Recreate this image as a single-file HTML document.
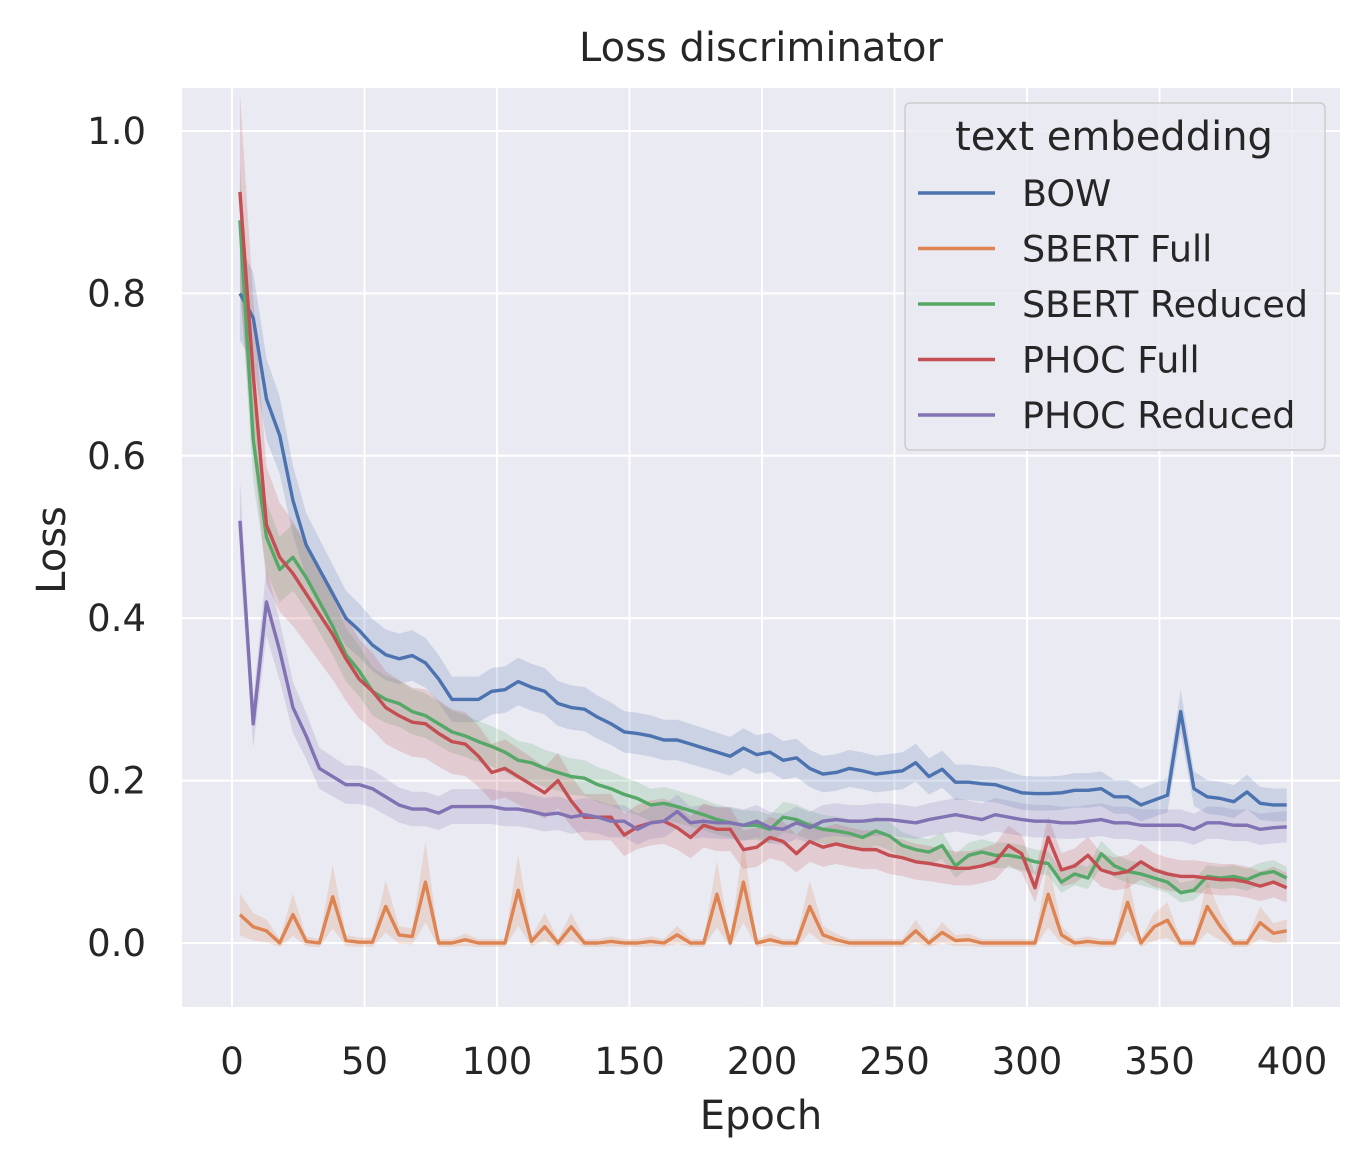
<!DOCTYPE html>
<html><head><meta charset="utf-8"><style>
body{margin:0;background:#fff;}
svg{display:block;font-family:"DejaVu Sans","Liberation Sans",sans-serif;}
</style></head><body>
<svg id="chart" width="1372" height="1168" xmlns="http://www.w3.org/2000/svg">
<rect x="182" y="88" width="1158" height="919" fill="#eaeaf2"/>
<g id="grid"></g>
<g id="bands"></g>
<g id="lines"></g>
<g id="ticks" font-size="37" fill="#262626"></g>
<text x="761" y="61" font-size="40" text-anchor="middle" fill="#262626">Loss discriminator</text>
<text x="761" y="1129" font-size="40" text-anchor="middle" fill="#262626">Epoch</text>
<text transform="translate(65,550) rotate(-90)" font-size="40" text-anchor="middle" fill="#262626">Loss</text>
<g id="legend">
<rect x="905" y="103" width="420" height="347" rx="5" fill="#eaeaf2" stroke="#ccc" stroke-width="1.5" fill-opacity="0.8"/>
<text x="1114" y="150" font-size="40" text-anchor="middle" fill="#262626">text embedding</text>
</g>
</svg>
<script>
const epochs=[];for(let e=3;e<=398;e+=5)epochs.push(e);
const bow=[.80,.77,.67,.625,.545,.49,.46,.43,.40,.385,.367,.355,.35,.354,.345,.325,.30,.30,.30,.31,.312,.322,.315,.31,.295,.29,.288,.278,.27,.26,.258,.255,.25,.25,.245,.24,.235,.23,.24,.232,.235,.225,.228,.215,.208,.21,.215,.212,.208,.21,.212,.222,.205,.214,.198,.198,.196,.195,.19,.185,.184,.184,.185,.188,.188,.19,.18,.18,.17,.176,.182,.285,.19,.18,.178,.174,.186,.172,.17,.17];
const sbertFull=[.035,.02,.015,0,.035,.002,0,.057,.003,.001,.001,.045,.01,.008,.075,0,0,.004,0,0,0,.065,.002,.02,0,.02,0,0,.002,0,0,.002,0,.01,0,0,.06,0,.075,0,.004,0,0,.045,.01,.004,0,0,0,0,0,.015,0,.013,.003,.004,0,0,0,0,0,.06,.01,0,.002,0,0,.05,0,.02,.028,0,0,.045,.02,0,0,.025,.012,.015];
const sbertReduced=[.89,.62,.50,.46,.475,.45,.42,.39,.355,.335,.31,.30,.295,.285,.28,.27,.26,.255,.248,.242,.235,.225,.222,.215,.21,.205,.203,.195,.19,.183,.178,.17,.172,.168,.163,.158,.152,.148,.145,.145,.14,.155,.152,.145,.14,.138,.135,.13,.138,.132,.12,.115,.112,.12,.095,.108,.112,.108,.108,.105,.10,.098,.075,.085,.08,.11,.095,.088,.085,.08,.075,.062,.065,.082,.08,.082,.078,.085,.088,.08];
const phocFull=[.925,.70,.515,.475,.455,.43,.405,.38,.35,.325,.31,.29,.28,.272,.27,.258,.248,.245,.23,.21,.215,.205,.195,.185,.2,.175,.155,.155,.155,.133,.143,.148,.15,.142,.13,.145,.14,.14,.115,.118,.13,.125,.11,.125,.118,.122,.118,.115,.115,.108,.105,.1,.098,.095,.092,.092,.095,.1,.12,.11,.068,.13,.09,.095,.108,.09,.085,.088,.1,.09,.085,.082,.082,.08,.078,.078,.075,.07,.075,.068];
const phocReduced=[.52,.27,.42,.36,.29,.255,.215,.205,.195,.195,.19,.18,.17,.165,.165,.16,.168,.168,.168,.168,.165,.165,.162,.158,.16,.155,.158,.155,.15,.15,.14,.148,.15,.162,.148,.15,.148,.148,.145,.15,.142,.14,.148,.142,.15,.152,.15,.15,.152,.152,.15,.148,.152,.155,.158,.155,.152,.158,.155,.152,.15,.15,.148,.148,.15,.152,.148,.148,.145,.145,.145,.145,.14,.148,.148,.145,.145,.14,.142,.143];
const seriesNames=["BOW","SBERT Full","SBERT Reduced","PHOC Full","PHOC Reduced"];
const xTicks=[0,50,100,150,200,250,300,350,400];
const yTicks=[0,0.2,0.4,0.6,0.8,1.0];
const colors=["#4c72b0","#dd8452","#55a868","#c44e52","#8172b3"];
const allData=[bow,sbertFull,sbertReduced,phocFull,phocReduced];
const errScale=[[.06,.01],[.6,.005],[.07,.008],[.12,.01],[.08,.008]];
const X=e=>232+e*(1292-232)/400, Y=v=>943-v*812;
const NS="http://www.w3.org/2000/svg";
function mk(t,a,p){const el=document.createElementNS(NS,t);for(const k in a)el.setAttribute(k,a[k]);p.appendChild(el);return el;}
const grid=document.getElementById('grid'),ticks=document.getElementById('ticks');
xTicks.forEach(t=>{const l=mk('line',{x1:X(t),x2:X(t),y1:88,y2:1007,stroke:'#fff','stroke-width':2},grid);

const tx=mk('text',{x:X(t),y:1074,'text-anchor':'middle'},ticks);tx.textContent=t;
});
yTicks.forEach(t=>{const l=mk('line',{x1:182,x2:1340,y1:Y(t),y2:Y(t),stroke:'#fff','stroke-width':2},grid);

const tx=mk('text',{x:146,y:Y(t)+13,'text-anchor':'end'},ticks);tx.textContent=t.toFixed(1);
});
const bands=document.getElementById('bands'),lines=document.getElementById('lines'),legend=document.getElementById('legend');
allData.forEach((d,s)=>{const [f,b]=errScale[s];
let up=d.map((v,i)=>X(epochs[i])+','+Y(v+v*f+b)),lo=d.map((v,i)=>X(epochs[i])+','+Y(v-v*f-b)).reverse();
const p=mk('polygon',{points:up.concat(lo).join(' '),fill:colors[s],'fill-opacity':0.2,stroke:'none'},bands);

const pl=mk('polyline',{points:d.map((v,i)=>X(epochs[i])+','+Y(v)).join(' '),fill:'none',stroke:colors[s],'stroke-width':3.4,'stroke-linejoin':'round'},lines);

const ly=193+s*55.5;
const ll=mk('line',{x1:918,x2:995,y1:ly,y2:ly,stroke:colors[s],'stroke-width':3.4},legend);

const lt=mk('text',{x:1022,y:ly+13,'font-size':36.5,fill:'#262626'},legend);lt.textContent=seriesNames[s];
});
</script>
</body></html>
